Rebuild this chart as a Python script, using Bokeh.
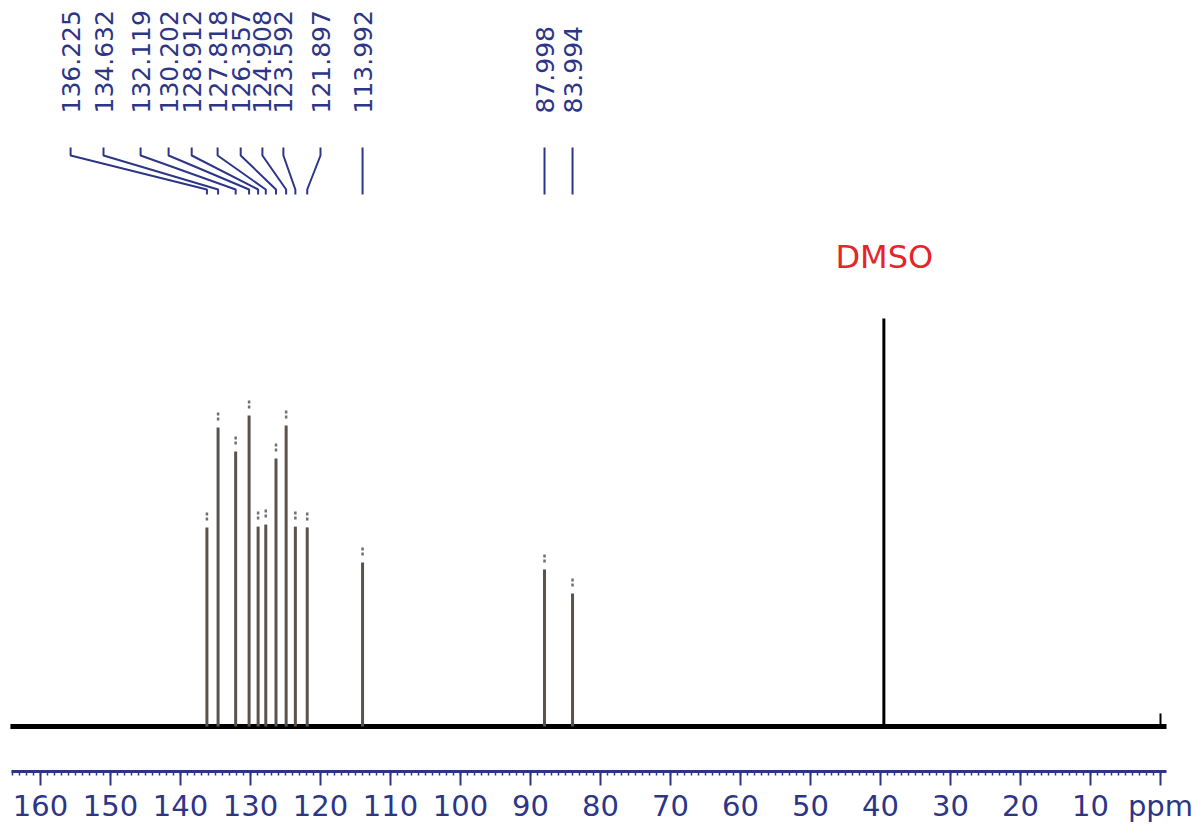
import numpy as np
from bokeh.plotting import figure
from bokeh.models import Range1d, FixedTicker
from bokeh.core.properties import value
from bokeh.embed import file_html
from bokeh.resources import INLINE

# 13C NMR peak list (ppm) and relative intensities (DMSO = 1.0)
shifts = [136.225, 134.632, 132.119, 130.202, 128.912, 127.818, 126.357,
          124.908, 123.592, 121.897, 113.992, 87.998, 83.994]
intensity = [0.488, 0.733, 0.674, 0.762, 0.490, 0.495, 0.657,
             0.738, 0.490, 0.488, 0.402, 0.385, 0.326]
solvent_shift = 39.52
solvent_intensity = 1.0
solvent_name = "DMSO"
ref_shift = 0.0
ref_intensity = 0.032

# where each rotated peak label sits along the ppm axis (spread apart to stay legible)
label_anchor = [155.7, 151.0, 145.7, 141.7, 138.4, 134.7, 131.4,
                128.3, 125.3, 120.0, 113.992, 87.998, 83.994]

NAVY = "#2d3588"
PX_Y = 1.0 / 408.0          # one screen pixel in intensity units
Y0_PX = 726.0               # screen row of the baseline


def ypx(row):
    """intensity value that lands on a given screen row"""
    return (Y0_PX - row) * PX_Y


p = figure(width=1204, height=827,
           x_range=Range1d(1160 / 7.0, (1160 - 1204) / 7.0),
           y_range=Range1d(ypx(771), ypx(0)),
           output_backend="svg", toolbar_location=None,
           y_axis_location=None,
           min_border_left=0, min_border_right=0,
           min_border_top=0, min_border_bottom=56)
p.grid.visible = False
p.outline_line_color = None
p.background_fill_color = "white"
p.border_fill_color = "white"

# baseline of the spectrum
p.line([164.3, -0.86], [0, 0], line_color="black", line_width=5)

# sample peaks
p.segment(x0=shifts, y0=[0] * len(shifts), x1=shifts, y1=intensity,
          line_color="#5b534e", line_width=3)
# peak-pick marks above each peak
p.segment(x0=shifts, y0=[h + 7 * PX_Y for h in intensity],
          x1=shifts, y1=[h + 15 * PX_Y for h in intensity],
          line_color="#707070", line_width=2.5, line_dash="3 2")

# solvent and reference peaks
p.segment(x0=[solvent_shift], y0=[0], x1=[solvent_shift], y1=[solvent_intensity],
          line_color="black", line_width=3)
p.segment(x0=[ref_shift], y0=[0], x1=[ref_shift], y1=[ref_intensity],
          line_color="black", line_width=2)

# connectors from labels down to the peaks
xs, ys = [], []
for lx, px in zip(label_anchor, shifts):
    xs.append([lx, lx, px, px])
    ys.append([ypx(147), ypx(155), ypx(189), ypx(194)])
p.multi_line(xs=xs, ys=ys, line_color=NAVY, line_width=2)

# rotated shift labels
p.text(x=label_anchor, y=[ypx(113)] * len(shifts),
       text=[f"{s:.3f}" for s in shifts],
       angle=np.pi / 2, text_align="left", text_baseline="middle",
       text_font=value("DejaVu Sans"), text_font_size="25px",
       text_color=NAVY)

# solvent label
p.text(x=[39.45], y=[ypx(256)], text=[solvent_name],
       text_align="center", text_baseline="middle",
       text_font=value("DejaVu Sans"), text_font_size="32px",
       text_color="#e5242b")

# ppm axis
ax = p.xaxis[0]
ax.ticker = FixedTicker(ticks=list(range(0, 161, 10)),
                        minor_ticks=list(range(0, 165)))
ax.bounds = (-0.86, 164.1)
ax.major_label_overrides = {0: "ppm"}
ax.axis_line_color = NAVY
ax.axis_line_width = 3
ax.major_tick_line_color = NAVY
ax.major_tick_line_width = 2
ax.major_tick_out = 14
ax.major_tick_in = 0
ax.minor_tick_line_color = NAVY
ax.minor_tick_line_width = 1.5
ax.minor_tick_out = 4
ax.minor_tick_in = 0
ax.major_label_standoff = 3
ax.major_label_text_font = "DejaVu Sans"
ax.major_label_text_font_size = "29px"
ax.major_label_text_color = NAVY

open("out.html", "w").write(file_html(p, INLINE))
